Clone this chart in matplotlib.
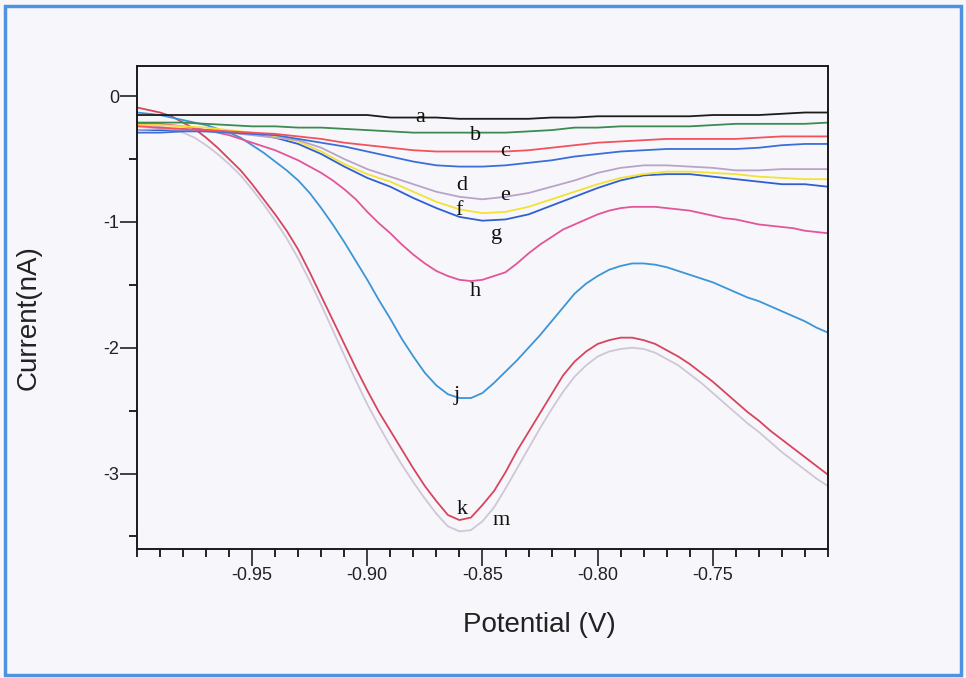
import numpy as np
import matplotlib
matplotlib.use('Agg')
import matplotlib.pyplot as plt
from matplotlib.patches import Rectangle
from matplotlib.ticker import MultipleLocator

# potential grids (V): 10 mV steps for the small traces, 5 mV for the big ones
potential = np.linspace(-1.0, -0.70, 31)
potential_fine = np.linspace(-1.0, -0.70, 61)

# current (nA) for each trace
cur_a = [-0.15, -0.15, -0.15, -0.15, -0.15, -0.15, -0.15, -0.15, -0.15, -0.15,
         -0.15, -0.17, -0.17, -0.17, -0.18, -0.18, -0.18, -0.18, -0.17, -0.17,
         -0.16, -0.16, -0.16, -0.16, -0.16, -0.15, -0.15, -0.15, -0.14, -0.13, -0.13]
cur_b = [-0.21, -0.21, -0.21, -0.22, -0.23, -0.24, -0.24, -0.25, -0.25, -0.26,
         -0.27, -0.28, -0.29, -0.29, -0.29, -0.29, -0.29, -0.28, -0.27, -0.25,
         -0.25, -0.24, -0.24, -0.24, -0.24, -0.23, -0.22, -0.22, -0.22, -0.22, -0.21]
cur_c = [-0.24, -0.25, -0.26, -0.27, -0.28, -0.29, -0.30, -0.32, -0.34, -0.37,
         -0.39, -0.41, -0.43, -0.44, -0.44, -0.44, -0.44, -0.43, -0.41, -0.39,
         -0.37, -0.36, -0.35, -0.34, -0.34, -0.34, -0.34, -0.33, -0.32, -0.32, -0.32]
cur_d = [-0.29, -0.29, -0.28, -0.28, -0.29, -0.30, -0.31, -0.34, -0.37, -0.40,
         -0.44, -0.48, -0.52, -0.55, -0.56, -0.56, -0.55, -0.53, -0.51, -0.48,
         -0.46, -0.44, -0.43, -0.42, -0.42, -0.42, -0.42, -0.41, -0.39, -0.38, -0.38]
cur_e = [-0.27, -0.26, -0.27, -0.28, -0.29, -0.31, -0.33, -0.35, -0.41, -0.50,
         -0.58, -0.64, -0.70, -0.76, -0.80, -0.82, -0.80, -0.77, -0.72, -0.67,
         -0.61, -0.57, -0.55, -0.55, -0.56, -0.57, -0.59, -0.59, -0.58, -0.58, -0.58]
cur_f = [-0.23, -0.23, -0.24, -0.25, -0.27, -0.29, -0.32, -0.36, -0.44, -0.54,
         -0.62, -0.68, -0.76, -0.84, -0.90, -0.93, -0.92, -0.88, -0.82, -0.76,
         -0.70, -0.65, -0.62, -0.60, -0.60, -0.61, -0.62, -0.64, -0.65, -0.66, -0.66]
cur_g = [-0.27, -0.27, -0.27, -0.27, -0.28, -0.30, -0.33, -0.38, -0.46, -0.56,
         -0.65, -0.72, -0.81, -0.89, -0.96, -0.99, -0.98, -0.94, -0.87, -0.80,
         -0.73, -0.67, -0.63, -0.62, -0.62, -0.64, -0.66, -0.68, -0.70, -0.70, -0.72]

cur_h = [-0.22, -0.22, -0.22, -0.23, -0.24, -0.25, -0.27, -0.29, -0.31, -0.34,
         -0.37, -0.40, -0.43, -0.47, -0.51, -0.56, -0.61, -0.67, -0.74, -0.82,
         -0.92, -1.01, -1.09, -1.18, -1.26, -1.33, -1.39, -1.43, -1.46, -1.47,
         -1.46, -1.43, -1.40, -1.33, -1.25, -1.18, -1.12, -1.06, -1.02, -0.98,
         -0.94, -0.91, -0.89, -0.88, -0.88, -0.88, -0.89, -0.90, -0.91, -0.93,
         -0.95, -0.97, -0.98, -1.00, -1.02, -1.03, -1.04, -1.05, -1.07, -1.08, -1.09]
cur_j = [-0.13, -0.14, -0.15, -0.17, -0.19, -0.21, -0.23, -0.26, -0.29, -0.33,
         -0.39, -0.45, -0.52, -0.59, -0.67, -0.77, -0.89, -1.02, -1.16, -1.31,
         -1.46, -1.62, -1.77, -1.93, -2.07, -2.20, -2.30, -2.37, -2.40, -2.40,
         -2.36, -2.28, -2.19, -2.10, -2.00, -1.90, -1.79, -1.68, -1.57, -1.49,
         -1.43, -1.38, -1.35, -1.33, -1.33, -1.34, -1.36, -1.39, -1.42, -1.45,
         -1.48, -1.52, -1.56, -1.60, -1.63, -1.67, -1.71, -1.75, -1.79, -1.84, -1.88]
cur_k = [-0.09, -0.11, -0.13, -0.16, -0.21, -0.26, -0.33, -0.41, -0.50, -0.59,
         -0.70, -0.82, -0.94, -1.07, -1.22, -1.40, -1.59, -1.78, -1.97, -2.16,
         -2.34, -2.51, -2.66, -2.81, -2.96, -3.10, -3.22, -3.33, -3.37, -3.35,
         -3.25, -3.14, -2.99, -2.82, -2.67, -2.52, -2.37, -2.22, -2.11, -2.03,
         -1.97, -1.94, -1.92, -1.92, -1.94, -1.97, -2.02, -2.07, -2.13, -2.20,
         -2.27, -2.35, -2.43, -2.51, -2.58, -2.66, -2.73, -2.80, -2.87, -2.94, -3.01]
cur_m = [-0.22, -0.23, -0.24, -0.26, -0.29, -0.33, -0.39, -0.46, -0.54, -0.63,
         -0.74, -0.86, -0.99, -1.13, -1.29, -1.47, -1.66, -1.86, -2.06, -2.26,
         -2.45, -2.62, -2.78, -2.93, -3.07, -3.20, -3.32, -3.42, -3.46, -3.45,
         -3.38, -3.27, -3.12, -2.96, -2.80, -2.64, -2.49, -2.35, -2.23, -2.14,
         -2.07, -2.03, -2.01, -2.00, -2.01, -2.04, -2.09, -2.14, -2.21, -2.28,
         -2.36, -2.44, -2.52, -2.60, -2.67, -2.75, -2.83, -2.90, -2.97, -3.04, -3.10]

traces = [
    (potential_fine, cur_m, '#cfc6d6'),
    (potential_fine, cur_k, '#d6455e'),
    (potential_fine, cur_j, '#3b95d6'),
    (potential_fine, cur_h, '#e3559a'),
    (potential, cur_g, '#2f5fd0'),
    (potential, cur_f, '#f2e236'),
    (potential, cur_e, '#b9a3c9'),
    (potential, cur_d, '#3a6fd8'),
    (potential, cur_c, '#f2525c'),
    (potential, cur_b, '#3c8b50'),
    (potential, cur_a, '#1c1c1c'),
]

# letter tags placed next to the traces
tag_text = ['a', 'b', 'c', 'd', 'e', 'f', 'g', 'h', 'j', 'k', 'm']
tag_x = [-0.877, -0.853, -0.840, -0.859, -0.840, -0.860, -0.844, -0.853, -0.861, -0.859, -0.842]
tag_y = [-0.17, -0.31, -0.44, -0.71, -0.79, -0.91, -1.10, -1.55, -2.38, -3.29, -3.37]

bg = '#f7f7fb'
fig = plt.figure(figsize=(9.66, 6.78), dpi=100, facecolor=bg)
ax = fig.add_axes([0.1418, 0.1903, 0.7153, 0.7124], facecolor=bg)

for xs, cur, col in traces:
    ax.plot(xs, cur, color=col, lw=1.3)

for t, x, y in zip(tag_text, tag_x, tag_y):
    ax.text(x, y, t, family='Liberation Serif', fontsize=16, color='#111111',
            ha='center', va='center')

ax.set_xlim(-1.0, -0.70)
ax.set_ylim(-3.6, 0.24)
ax.xaxis.set_minor_locator(MultipleLocator(0.01))
ax.yaxis.set_minor_locator(MultipleLocator(0.5))
ax.set_xticks([-0.95, -0.90, -0.85, -0.80, -0.75])
ax.set_xticklabels(['-0.95', '-0.90', '-0.85', '-0.80', '-0.75'])
ax.set_yticks([0, -1, -2, -3])
ax.set_yticklabels(['0', '-1', '-2', '-3'])
ax.tick_params(which='major', direction='out', length=12, width=1.2, pad=1,
               labelsize=13, colors='#222222')
ax.tick_params(which='minor', direction='out', length=6, width=1.2)
for lab in ax.get_xticklabels() + ax.get_yticklabels():
    lab.set_family('Liberation Sans')
for s in ax.spines.values():
    s.set_linewidth(1.4)
    s.set_color('#1a1a1a')

fig.text(539 / 966, 1 - 625 / 678, 'Potential (V)', family='Liberation Sans',
         fontsize=20, color='#222222', ha='center', va='center')
fig.text(29 / 966, 1 - 318 / 678, 'Current(nA)', family='Liberation Sans',
         fontsize=20, color='#222222', ha='center', va='center', rotation=90)

# blue frame round the whole figure
fig.patches.append(Rectangle((5 / 966, 3 / 678), 956 / 966, 669 / 678,
                             transform=fig.transFigure, fill=False,
                             edgecolor='#4f93e0', lw=2.5))

fig.savefig('out.png', dpi=100, facecolor=bg)
